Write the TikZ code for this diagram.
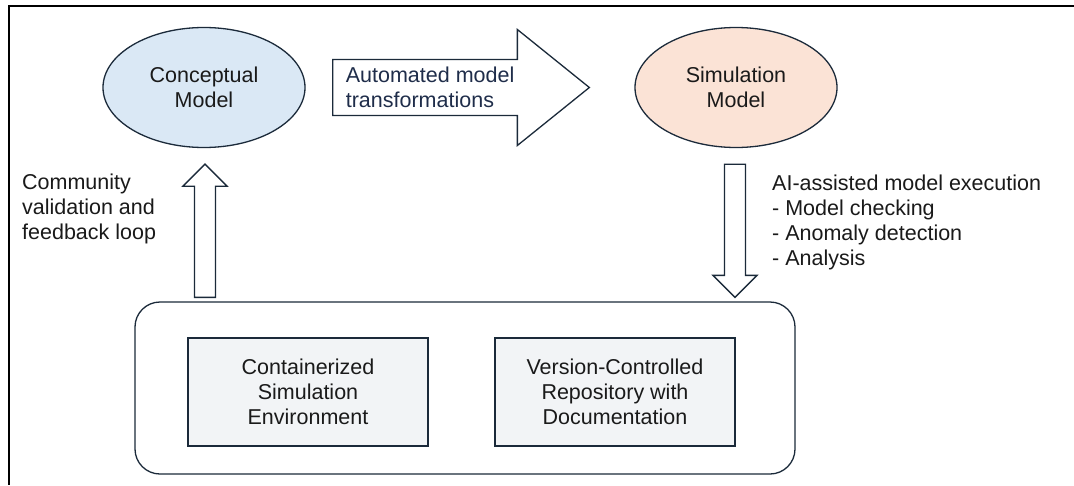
\documentclass[tikz,border=0pt]{standalone}
\usepackage{fontspec}
\setmainfont{Liberation Sans}
\usetikzlibrary{calc,shapes.geometric}
\definecolor{outl}{HTML}{1B2A3A}
\definecolor{bluefill}{HTML}{DAE8F5}
\definecolor{peach}{HTML}{FBE3D6}
\definecolor{boxfill}{HTML}{F2F4F6}
\definecolor{txt}{HTML}{1A1A1A}
\definecolor{navytxt}{HTML}{1F2D4A}
\begin{document}
\begin{tikzpicture}[x=1pt,y=-1pt,
  every node/.style={font=\fontsize{21.5}{25}\selectfont, text=txt},
  model/.style={ellipse, draw=outl, line width=1.3pt, minimum width=202, minimum height=120, align=center, inner sep=0pt},
  blockarrow/.style={draw=outl, line width=1.3pt, fill=white, line join=miter},
  envbox/.style={draw=outl, line width=1.3pt, rounded corners=25pt, minimum width=660, minimum height=172},
  compbox/.style={draw=outl, line width=1.3pt, fill=boxfill, minimum width=240, minimum height=108, align=center, inner sep=0pt},
  label/.style={align=left, anchor=west, inner sep=0pt}]
\useasboundingbox (0,0) rectangle (1074,485);
\fill[white] (0,0) rectangle (1074,485);
\draw[line width=2.2pt, black] (1074,6) -- (9,6) -- (9,485);

% models
\node[model, fill=bluefill] (concept) at (204,87.5) {Conceptual\\Model};
\node[model, fill=peach] (sim) at (736,87.5) {Simulation\\Model};

% environment
\node[envbox] (env) at (465,388) {};
\node[compbox] (cont) at (308,392) {Containerized\\Simulation\\Environment};
\node[compbox] (repo) at (615,392) {Version-Controlled\\Repository with\\Documentation};

% horizontal block arrow
\coordinate (hs) at ($(concept.east)+(27,0)$);
\coordinate (he) at ($(sim.west)+(-45,0)$);
\draw[blockarrow] ($(hs)+(0,-28)$) -- ($(he)+(-72,-28)$) -- ($(he)+(-72,-58)$) -- (he)
  -- ($(he)+(-72,58)$) -- ($(he)+(-72,28)$) -- ($(hs)+(0,28)$) -- cycle;
\node[label, text=navytxt] (autotxt) at ($(hs)+(13,0)$) {Automated model\\transformations};

% up arrow (feedback)
\coordinate (ub) at ($(env.north -| concept.south)+(1,-4)$);
\coordinate (ut) at ($(concept.south)+(1,16)$);
\draw[blockarrow] ($(ub)+(-10.5,0)$) -- ($(ut)+(-10.5,22)$) -- ($(ut)+(-22,22)$) -- (ut)
  -- ($(ut)+(22,22)$) -- ($(ut)+(10.5,22)$) -- ($(ub)+(10.5,0)$) -- cycle;
\node[label] (commtxt) at (22,209) {Community\\validation and\\feedback loop};

% down arrow (execution)
\coordinate (dt) at ($(sim.south)+(-1,16)$);
\coordinate (db) at ($(env.north -| dt)+(0,-4)$);
\draw[blockarrow] ($(dt)+(-10.5,0)$) -- ($(db)+(-10.5,-22)$) -- ($(db)+(-22,-22)$) -- (db)
  -- ($(db)+(22,-22)$) -- ($(db)+(10.5,-22)$) -- ($(dt)+(10.5,0)$) -- cycle;
\node[label] (aitxt) at (772,222) {AI-assisted model execution\\- Model checking\\- Anomaly detection\\- Analysis};
\end{tikzpicture}
\end{document}
